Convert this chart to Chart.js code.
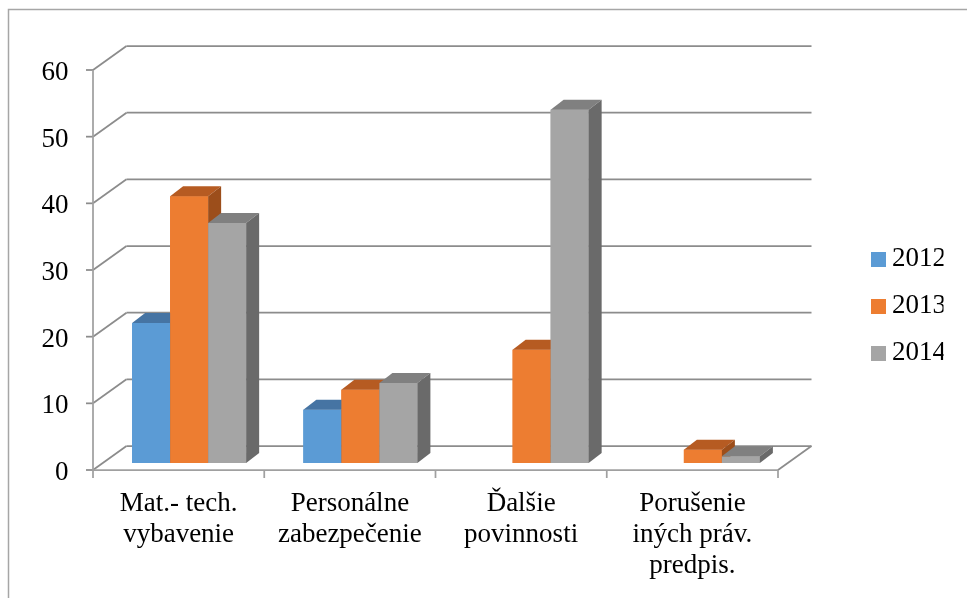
<!DOCTYPE html>
<html><head><meta charset="utf-8">
<script src="https://cdn.jsdelivr.net/npm/chart.js@4.4.1/dist/chart.umd.min.js"></script>
<style>
html,body{margin:0;padding:0;background:#fff;overflow:hidden;}
#wrap{position:absolute;left:0;top:0;width:967px;height:598px;}
</style></head><body>
<div id="wrap"><canvas id="c" width="967" height="598"></canvas></div>
<script>
// ---- data ----
const categories = [["Mat.- tech.","vybavenie"],["Personálne","zabezpečenie"],["Ďalšie","povinnosti"],["Porušenie","iných práv.","predpis."]];
const seriesNames = ["2012","2013","2014"];
const values2012 = [21, 8, 0, 0];
const values2013 = [40, 11, 17, 2];
const values2014 = [36, 12, 53, 1];
const yTicks = [0, 10, 20, 30, 40, 50, 60];

// ---- styles ----
const FONT = "'Liberation Serif', serif";
const frontColors = ["#5B9BD5", "#ED7D31", "#A5A5A5"];
const topColors = ["#4674A3", "#B65B22", "#808080"];
const sideColors = ["#3E6690", "#9C4E1B", "#6A6A6A"];
const FRONT = {dx: -10.5, dy: 7};
const BACK = {dx: 23, dy: -17};
const BAR_DEPTH = {dx: 13, dy: -10};

const legendSwatches = frontColors.map(col => {
  const cv = document.createElement('canvas');
  cv.width = 30; cv.height = 15;
  const c = cv.getContext('2d');
  c.fillStyle = col; c.fillRect(15, 0, 15, 15);
  return cv;
});

function line(ctx, x1, y1, x2, y2) {
  ctx.beginPath(); ctx.moveTo(x1, y1); ctx.lineTo(x2, y2); ctx.stroke();
}
function poly(ctx, pts, col) {
  ctx.beginPath(); ctx.moveTo(pts[0][0], pts[0][1]);
  for (let i = 1; i < pts.length; i++) ctx.lineTo(pts[i][0], pts[i][1]);
  ctx.closePath(); ctx.fillStyle = col; ctx.fill();
}

const frame3d = {
  id: 'frame3d',
  afterLayout(chart) {
    // let the category labels use the full space below the plot
    const xs = chart.scales.x;
    xs.bottom = chart.height;
    xs.height = xs.bottom - xs.top;
  },
  beforeDraw(chart) {
    const c = chart.ctx;
    c.save(); c.strokeStyle = '#a6a6a6'; c.lineWidth = 1.5;
    c.strokeRect(8.5, 9.5, 1200, 1200); c.restore();
  },
  beforeDatasetsDraw(chart) {
    const ctx = chart.ctx, x = chart.scales.x, y = chart.scales.y;
    const left = chart.chartArea.left, right = chart.chartArea.right;
    ctx.save();
    ctx.lineWidth = 1.75; ctx.strokeStyle = '#8c8c8c'; ctx.lineCap = 'butt';
    yTicks.forEach(v => {
      const py = y.getPixelForValue(v);
      line(ctx, left + BACK.dx, py + BACK.dy, right + BACK.dx, py + BACK.dy);
      line(ctx, left + FRONT.dx, py + FRONT.dy, left + BACK.dx, py + BACK.dy);
      line(ctx, left + FRONT.dx - 7, py + FRONT.dy, left + FRONT.dx, py + FRONT.dy);
    });
    const y0 = y.getPixelForValue(yTicks[0]);
    const yTop = y.getPixelForValue(yTicks[yTicks.length - 1]);
    ctx.strokeStyle = '#a0a0a0';
    line(ctx, left + FRONT.dx, yTop + FRONT.dy, left + FRONT.dx, y0 + FRONT.dy);
    line(ctx, left + FRONT.dx, y0 + FRONT.dy, right + FRONT.dx, y0 + FRONT.dy);
    ctx.strokeStyle = '#8c8c8c';
    line(ctx, right + FRONT.dx, y0 + FRONT.dy, right + BACK.dx, y0 + BACK.dy);
    ctx.strokeStyle = '#a0a0a0';
    for (let k = 0; k <= categories.length; k++) {
      const px = x.getPixelForValue(k - 0.5) + FRONT.dx;
      line(ctx, px, y0 + FRONT.dy, px, y0 + FRONT.dy + 8);
    }
    ctx.restore();
  },
  afterDatasetsDraw(chart) {
    const ctx = chart.ctx;
    ctx.save();
    chart.data.datasets.forEach((ds, d) => {
      const meta = chart.getDatasetMeta(d);
      meta.data.forEach((bar, i) => {
        const v = ds.data[i];
        if (!v) return;
        const l = bar.x - bar.width / 2, r = bar.x + bar.width / 2;
        const t = bar.y, b = bar.base;
        const dx = BAR_DEPTH.dx, dy = BAR_DEPTH.dy;
        ctx.fillStyle = frontColors[d];
        ctx.fillRect(l, t, r - l, b - t);
        poly(ctx, [[l, t], [r, t], [r + dx, t + dy], [l + dx, t + dy]], topColors[d]);
        poly(ctx, [[r, t], [r + dx, t + dy], [r + dx, b + dy], [r, b]], sideColors[d]);
      });
    });
    ctx.restore();
  }
};

const seriesValues = [values2012, values2013, values2014];
new Chart(document.getElementById('c'), {
  type: 'bar',
  data: {
    labels: categories,
    datasets: seriesValues.map((d, i) => ({
      label: seriesNames[i], data: d, backgroundColor: frontColors[i],
      borderWidth: 0, categoryPercentage: 0.666, barPercentage: 1
    }))
  },
  options: {
    responsive: false, animation: false,
    layout: {padding: {left: 8.5, right: 23.5, top: 63, bottom: 49}},
    scales: {
      x: {
        grid: {display: false, drawTicks: false}, border: {display: false},
        ticks: {font: {family: FONT, size: 27, lineHeight: '31px'}, color: '#000', padding: 25,
                labelOffset: FRONT.dx, maxRotation: 0, minRotation: 0, autoSkip: false},
        afterFit(s) { s.height = 86; }
      },
      y: {
        min: yTicks[0], max: yTicks[yTicks.length - 1],
        afterBuildTicks(s) { s.ticks = yTicks.map(v => ({value: v})); },
        grid: {display: false, drawTicks: false}, border: {display: false},
        ticks: {font: {family: FONT, size: 27}, color: '#000', padding: 35, labelOffset: 10},
        afterFit(s) { s.width = 95; }
      },
      y2: {
        type: 'linear', position: 'right',
        grid: {display: false, drawTicks: false}, border: {display: false},
        ticks: {display: false},
        afterFit(s) { s.width = 55; }
      }
    },
    plugins: {
      tooltip: {enabled: false},
      legend: {
        position: 'right', maxWidth: 100,
        labels: {
          usePointStyle: true, boxWidth: 15, boxHeight: 15, padding: 20, color: '#000',
          font: {family: FONT, size: 27},
          generateLabels(chart) {
            const items = Chart.defaults.plugins.legend.labels.generateLabels(chart);
            items.forEach(it => { it.pointStyle = legendSwatches[it.datasetIndex]; });
            return items;
          }
        }
      }
    }
  },
  plugins: [frame3d]
});
</script>
</body></html>
